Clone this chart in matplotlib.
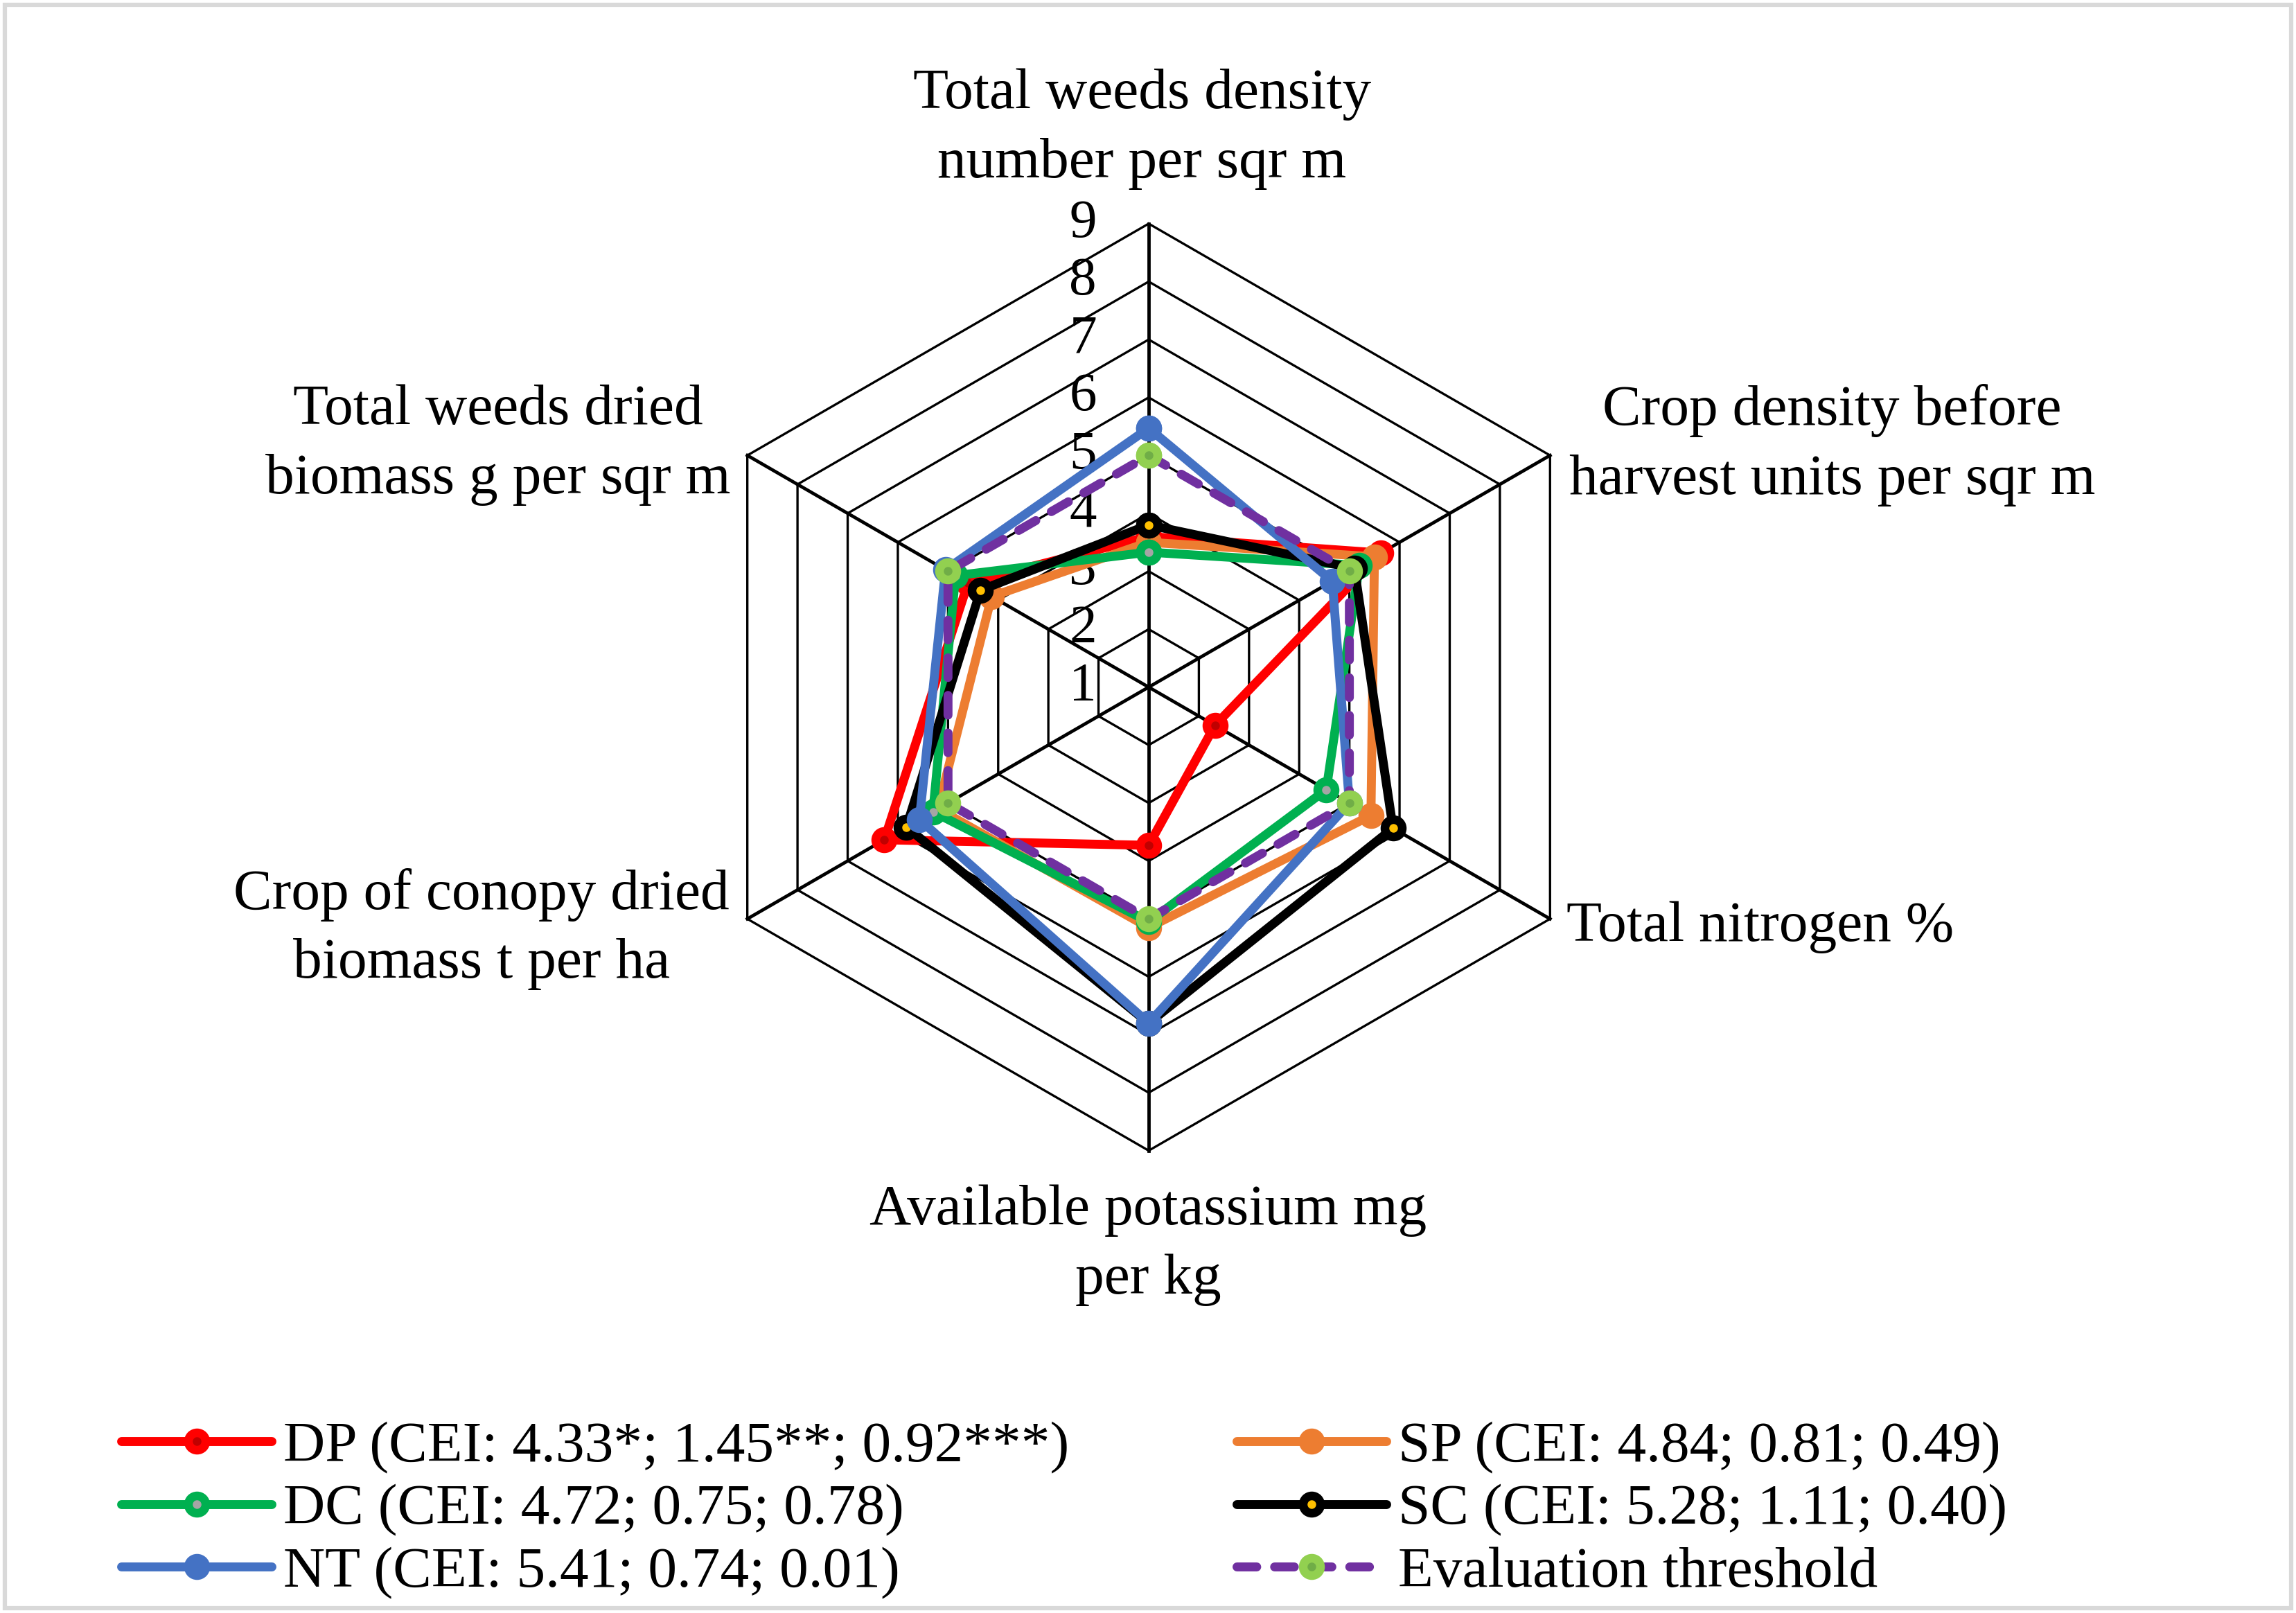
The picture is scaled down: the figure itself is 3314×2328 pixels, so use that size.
import numpy as np
import matplotlib
matplotlib.use("Agg")
import matplotlib.pyplot as plt
from matplotlib.patches import Rectangle

plt.rcParams['font.family'] = ['Liberation Serif', 'DejaVu Serif']

# ---------------- data ----------------
categories = [
    "Total weeds density\nnumber per sqr m",
    "Crop density before\nharvest units per sqr m",
    "Total nitrogen %",
    "Available potassium mg\nper kg",
    "Crop of conopy dried\nbiomass t per ha",
    "Total weeds dried\nbiomass g per sqr m",
]
series_names = [
    "DP (CEI: 4.33*; 1.45**; 0.92***)",
    "SP (CEI: 4.84; 0.81; 0.49)",
    "DC (CEI: 4.72; 0.75; 0.78)",
    "SC (CEI: 5.28; 1.11; 0.40)",
    "NT (CEI: 5.41; 0.74; 0.01)",
    "Evaluation threshold",
]
dp_values = [3.6, 5.63, 2.32, 3.73, 6.27, 4.6]
sp_values = [3.5, 5.5, 5.43, 5.15, 5.2, 4.13]
dc_values = [3.33, 5.2, 4.54, 5.05, 5.3, 4.85]
sc_values = [3.8, 5.1, 5.87, 6.8, 5.83, 4.35]
nt_values = [5.47, 4.66, 5.0, 6.8, 5.57, 5.05]
eval_values = [5.0, 5.0, 5.0, 5.0, 5.0, 5.0]
tick_labels = ["1", "2", "3", "4", "5", "6", "7", "8", "9"]
r_min, r_max = 1, 9

# ---------------- styles ----------------
styles = [
    dict(color="#FF0000", mfc="#C00000", mec="#FF0000", ls="-"),
    dict(color="#ED7D31", mfc="#ED7D31", mec="#ED7D31", ls="-"),
    dict(color="#00B050", mfc="#A5A5A5", mec="#00B050", ls="-"),
    dict(color="#000000", mfc="#FFC000", mec="#000000", ls="-"),
    dict(color="#4472C4", mfc="#4472C4", mec="#4472C4", ls="-"),
    dict(color="#7030A0", mfc="#70AD47", mec="#92D050", ls="--"),
]
all_values = [dp_values, sp_values, dc_values, sc_values, nt_values, eval_values]

W, H = 3314, 2328
DPI = 300
fig = plt.figure(figsize=(W / DPI, H / DPI), dpi=DPI)
fig.patch.set_facecolor("white")

# polar axes placed so that center/radius match reference
cx, cy = 0.5003, 0.574
rw, rh = 0.4037, 0.5747
ax = fig.add_axes([cx - rw / 2, cy - rh / 2, rw, rh], projection="polar")
ax.set_theta_zero_location("N")
ax.set_theta_direction(-1)
ax.set_ylim(r_min, r_max)
ax.grid(False)
ax.set_xticks([])
ax.set_yticks([])
ax.spines["polar"].set_visible(False)
ax.patch.set_alpha(0)

n = len(categories)
theta = np.linspace(0, 2 * np.pi, n, endpoint=False)
theta_closed = np.concatenate([theta, theta[:1]])

# hexagonal grid
for k in range(r_min + 1, r_max + 1):
    ax.plot(theta_closed, [k] * (n + 1), color="black", lw=0.8, zorder=1,
            clip_on=False, solid_joinstyle="miter")
for t in theta:
    ax.plot([t, t], [r_min, r_max], color="black", lw=1.15, zorder=1, clip_on=False)

# tick labels
for k, lab in enumerate(tick_labels, start=r_min):
    ax.annotate(lab, xy=(0, k), xytext=(-18, 0), textcoords="offset points",
                ha="right", va="center", fontsize=19, zorder=2,
                annotation_clip=False)

# series
handles = []
for vals, name, st in zip(all_values, series_names, styles):
    v = list(vals) + [vals[0]]
    kw = dict(color=st["color"], lw=3.1, marker="o", ms=6.0, mew=3.0,
              mfc=st["mfc"], mec=st["mec"], clip_on=False, zorder=3,
              solid_joinstyle="round", solid_capstyle="round")
    if st["ls"] == "--":
        kw.update(lw=3.1, dashes=(2.2, 2.0), dash_capstyle="round",
                  dash_joinstyle="round")
    line, = ax.plot(theta_closed, v, label=name, **kw)
    handles.append(line)

# category labels (figure fractions)
label_pos = [
    (0.4974, 0.920, "center"),
    (0.798, 0.724, "center"),
    (0.6824, 0.425, "left"),
    (0.500, 0.228, "center"),
    (0.2098, 0.424, "center"),
    (0.2168, 0.724, "center"),
]
for (x, y, ha), txt in zip(label_pos, categories):
    fig.text(x, y, txt, ha=ha, va="center", multialignment="center",
             fontsize=20, linespacing=1.42)

# legend: rows DP/SP, DC/SC, NT/Eval
order = [0, 2, 4, 1, 3, 5]
leg = fig.legend([handles[i] for i in order], [series_names[i] for i in order],
                 ncol=2, loc="upper left", bbox_to_anchor=(83 / 1568, 1 - 970 / 1101),
                 frameon=False, fontsize=20, handlelength=2.6, handletextpad=0.2,
                 columnspacing=2.9, labelspacing=0.17, borderpad=0, borderaxespad=0)

# chart border
fig.patches.append(Rectangle((0.002, 0.003), 0.996, 0.994, transform=fig.transFigure,
                             fill=False, edgecolor="#D9D9D9", lw=1.5))

fig.savefig("out.png", dpi=DPI, facecolor="white")
